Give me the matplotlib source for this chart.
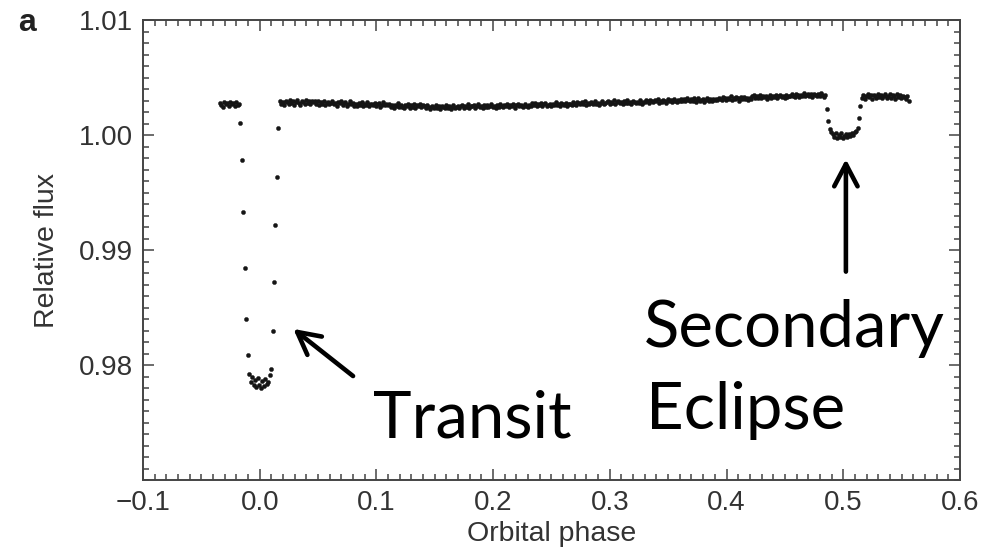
import numpy as np
import matplotlib
matplotlib.use("Agg")
import matplotlib.pyplot as plt
from matplotlib.ticker import MultipleLocator, FixedLocator

# Phase-folded light curve: evenly spaced phase bins starting at PHASE_START
PHASE_START = -0.034
PHASE_STEP = 0.00125

# Relative flux, given as offsets from 1.0 in units of 1e-5
pre_transit = [278, 262, 240, 284, 270, 282, 256, 290, 266, 276, 252, 284, 264, 272]
ingress = [105, -218, -673, -1153, -1598, -1913]
transit_floor = [-2080, -2145, -2105, -2170, -2130, -2190, -2115, -2175, -2200,
                 -2140, -2185, -2120, -2165, -2145, -2090]
egress = [-2037, -1706, -1278, -780, -367, 61]
out_of_transit = [
    300, 272, 291, 265, 297, 283, 270, 306, 278, 293, 262, 289, 302, 276, 258, 295, 287, 268, 304, 281, 292, 266, 298, 284, 294,
    266, 292, 262, 284, 274, 298, 258, 280, 290, 268, 282, 300, 270, 276, 254, 288, 280, 294, 262, 278, 286, 256, 274, 292, 270,
    282, 256, 272, 250, 278, 264, 288, 254, 270, 260, 284, 248, 274, 266, 258, 280, 252, 268, 276, 246, 264, 290, 258, 272, 262,
    269, 243, 259, 237, 265, 251, 275, 241, 257, 247, 231, 263, 253, 271, 239, 261, 245, 267, 235, 257, 249, 273, 243, 259, 251,
    231, 257, 241, 227, 253, 247, 235, 261, 237, 249, 225, 255, 243, 233, 259, 239, 251, 229, 247, 263, 235, 245, 253, 231, 249,
    262, 238, 254, 244, 266, 232, 256, 248, 260, 236, 252, 268, 242, 250, 234, 264, 246, 258, 240, 254, 270, 244, 252, 238, 260,
    246, 268, 252, 240, 264, 256, 274, 244, 260, 250, 266, 238, 258, 272, 248, 262, 254, 242, 270, 256, 246, 264, 252, 276, 260,
    276, 254, 270, 260, 282, 250, 268, 278, 256, 264, 274, 248, 272, 262, 284, 258, 266, 252, 280, 270, 260, 276, 254, 268, 274,
    264, 286, 272, 260, 290, 278, 268, 284, 274, 296, 262, 280, 270, 288, 276, 266, 292, 272, 282, 258, 278, 294, 268, 280, 286,
    295, 273, 289, 279, 301, 271, 287, 297, 275, 283, 267, 293, 281, 305, 277, 289, 271, 299, 285, 275, 291, 281, 303, 273, 287,
    286, 304, 292, 280, 308, 298, 284, 302, 294, 314, 282, 300, 290, 306, 296, 278, 310, 292, 302, 288, 316, 294, 284, 304, 298,
    316, 298, 310, 292, 322, 304, 294, 312, 300, 326, 290, 308, 318, 296, 306, 314, 288, 302, 320, 298, 310, 294, 316, 304, 312,
    308, 326, 314, 302, 332, 320, 306, 324, 316, 336, 304, 322, 312, 330, 318, 300, 328, 314, 334, 310, 322, 308, 326, 316, 338,
    344, 322, 336, 326, 350, 320, 338, 328, 342, 316, 334, 348, 324, 340, 330, 346, 318, 336, 352, 328, 340, 322, 344, 332, 338,
    337, 355, 343, 329, 359, 347, 333, 351, 341, 365, 335, 349, 357, 339, 353, 331, 361, 345, 337, 355, 343, 367, 347, 333, 351,
]
eclipse_ingress = [230, 122, 50]
eclipse_floor = [30, 8, -15, 20, -22, 4, -16, 14, -28, -5, 10, -20, 6, -10, 18, -4, 24, 38]
eclipse_egress = [64, 150, 253]
post_eclipse = [325, 349, 316, 341, 357, 327, 345, 310, 352, 337, 321, 360, 333, 347, 318, 343,
                353, 325, 339, 358, 322, 349, 335, 312, 355, 329, 345, 318, 341, 331, 310, 337, 300]

x_ticks = [-0.1, 0.0, 0.1, 0.2, 0.3, 0.4, 0.5, 0.6]
x_tick_labels = ["\u22120.1", "0.0", "0.1", "0.2", "0.3", "0.4", "0.5", "0.6"]
y_ticks = [0.98, 0.99, 1.00, 1.01]
y_tick_labels = ["0.98", "0.99", "1.00", "1.01"]

offsets = np.array(pre_transit + ingress + transit_floor + egress + out_of_transit
                   + eclipse_ingress + eclipse_floor + eclipse_egress + post_eclipse, dtype=float)
flux = 1.0 + offsets * 1e-5
phase = PHASE_START + PHASE_STEP * np.arange(len(flux))

plt.rcParams["font.family"] = ["Liberation Sans", "DejaVu Sans"]
ink = "#333333"

fig = plt.figure(figsize=(10.02, 5.53), dpi=100)
ax = fig.add_axes([0.1427, 0.132, 0.8153, 0.8318])

ax.plot(phase, flux, linestyle="none", marker="o", markersize=3.0,
        markerfacecolor="#151515", markeredgecolor="#151515", markeredgewidth=0.3)

ax.set_xlim(-0.1, 0.6)
ax.set_ylim(0.97, 1.01)
ax.xaxis.set_major_locator(FixedLocator(x_ticks))
ax.set_xticklabels(x_tick_labels)
ax.xaxis.set_minor_locator(MultipleLocator(0.01))
ax.yaxis.set_major_locator(FixedLocator(y_ticks))
ax.set_yticklabels(y_tick_labels)
ax.yaxis.set_minor_locator(MultipleLocator(0.001))

ax.tick_params(which="both", direction="in", top=True, right=True,
               color="#444444", width=1.1, labelcolor=ink, labelsize=20)
ax.tick_params(which="major", length=8, pad=7)
ax.tick_params(which="minor", length=4)
for s in ax.spines.values():
    s.set_color("#444444")
    s.set_linewidth(1.4)

ax.set_xlabel("Orbital phase", fontsize=20.5, color=ink, labelpad=4)
ax.set_ylabel("Relative flux", fontsize=20.5, color=ink, labelpad=14)

fig.text(0.018, 0.985, "a", fontsize=23, fontweight="bold", color="#222222",
         ha="left", va="top")

# Annotations for the transit and the secondary eclipse
arrow = dict(arrowstyle="->,head_length=0.8,head_width=0.42", lw=3.3,
             color="black", mutation_scale=20, shrinkA=0, shrinkB=0)
ax.annotate("", xy=(0.0288, 0.98314), xytext=(0.0800, 0.97904), arrowprops=arrow)
ax.annotate("", xy=(0.5023, 0.99790), xytext=(0.5023, 0.98812), arrowprops=arrow)

label_font = dict(family=["Lato", "DejaVu Sans"], fontsize=47, color="black",
                  ha="left", va="baseline")
ax.text(0.0967, 0.97371, "Transit", **label_font)
ax.text(0.3296, 0.98157, "Secondary", **label_font)
ax.text(0.3310, 0.97441, "Eclipse", **label_font)

fig.savefig("out.png", dpi=100)
